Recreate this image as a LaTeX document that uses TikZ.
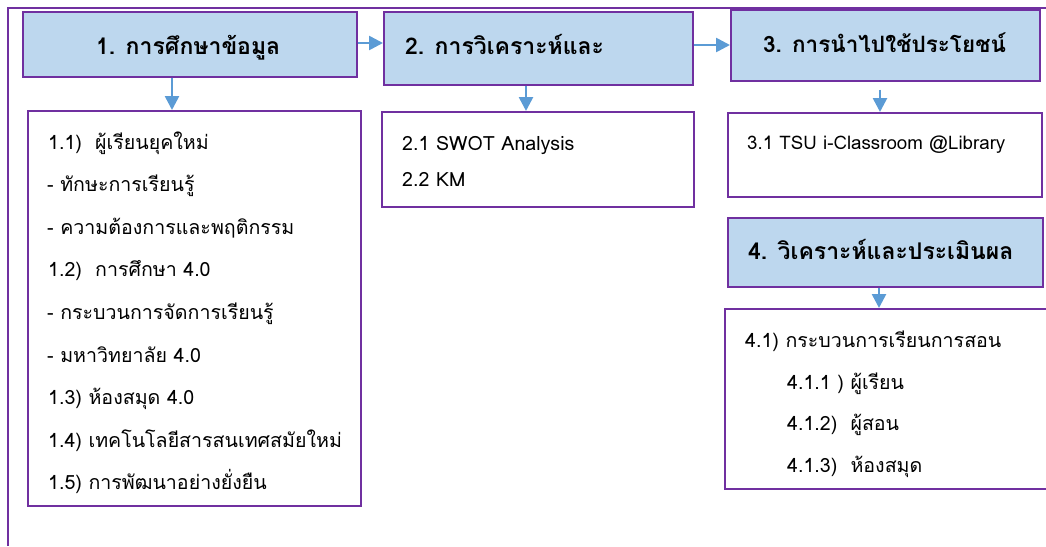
\documentclass[tikz,border=0pt]{standalone}
\usepackage{fontspec}
\setmainfont[Script=Thai]{Loma}
\usetikzlibrary{arrows.meta,calc}
\definecolor{pur}{HTML}{7030A0}
\definecolor{hdr}{HTML}{BDD7EE}
\definecolor{arr}{HTML}{5B9BD5}
\tikzset{
  box/.style={draw=pur,line width=1.6pt,rectangle,inner sep=0pt,anchor=north west},
  hbox/.style={box,fill=hdr},
  htext/.style={anchor=base west,inner sep=0pt,font=\fontsize{23}{23}\selectfont\bfseries},
  btext/.style={anchor=base west,inner sep=0pt,font=\fontsize{19.6}{19.6}\selectfont},
  conn/.style={draw=arr,line width=2.6pt,-{Triangle[length=14pt,width=14pt]}},
  frame/.style={draw=pur,line width=2.6pt}
}
\begin{document}
\begin{tikzpicture}[x=1pt,y=-1pt]
\useasboundingbox (0,0) rectangle (1046,546);
\draw[frame] (8,546) -- (8,8) -- (1046,8);
% header boxes
\node[hbox,minimum width=334pt,minimum height=65pt] (h1) at (22,11) {};
\node[hbox,minimum width=309pt,minimum height=73pt] (h2) at (383,11) {};
\node[hbox,minimum width=309pt,minimum height=71pt] (h3) at (730,9) {};
\node[hbox,minimum width=315pt,minimum height=69pt] (h4) at (727,217) {};
% detail boxes
\node[box,minimum width=333pt,minimum height=395pt] (d1) at (27,110) {};
\node[box,minimum width=312pt,minimum height=95pt] (d2) at (381,111) {};
\node[box,minimum width=314pt,minimum height=84pt] (d3) at (727,112) {};
\node[box,minimum width=322pt,minimum height=180pt] (d4) at (724,308) {};
% header texts
\node[htext] (t1) at (96,54) {1. การศึกษาข้อมูล};
\node[htext] (t2) at (405,54) {2. การวิเคราะห์และ};
\node[htext,font=\fontsize{22.5}{22.5}\selectfont\bfseries] (t3) at (763,52) {3. การนำไปใช้ประโยชน์};
\node[htext] (t4) at (748,259) {4. วิเคราะห์และประเมินผล};
% box 1 texts
\node[btext] (a1) at (48,149) {1.1)\ \ ผู้เรียนยุคใหม่};
\node[btext] (a2) at (47,191.6) {- ทักษะการเรียนรู้};
\node[btext] (a3) at (47,234.2) {- ความต้องการและพฤติกรรม};
\node[btext] (a4) at (48,276.8) {1.2)\ \ การศึกษา 4.0};
\node[btext] (a5) at (47,319.4) {- กระบวนการจัดการเรียนรู้};
\node[btext] (a6) at (47,362) {- มหาวิทยาลัย 4.0};
\node[btext] (a7) at (48,404.6) {1.3) ห้องสมุด 4.0};
\node[btext] (a8) at (48,447.2) {1.4) เทคโนโลยีสารสนเทศสมัยใหม่};
\node[btext] (a9) at (48,489.8) {1.5) การพัฒนาอย่างยั่งยืน};
% box 2 texts
\node[btext] (b1) at (402,150) {2.1 SWOT Analysis};
\node[btext] (b2) at (402,186) {2.2 KM};
% box 3 text
\node[btext,font=\fontsize{18.7}{18.7}\selectfont] (c1) at (747,149) {3.1 TSU i-Classroom @Library};
% box 4 texts
\node[btext] (e1) at (745,347) {4.1) กระบวนการเรียนการสอน};
\node[btext] (e2) at (787,389) {4.1.1 ) ผู้เรียน};
\node[btext] (e3) at (787,430.5) {4.1.2)\ \ ผู้สอน};
\node[btext] (e4) at (787,472) {4.1.3)\ \ ห้องสมุด};
% connectors
\coordinate (x1) at (172,0);
\coordinate (x2) at (526,0);
\coordinate (x3) at (880,0);
\coordinate (x4) at (879,0);
\coordinate (y12) at (0,43);
\coordinate (y23) at (0,45);
\draw[conn] (h1.south -| x1) -- (d1.north -| x1);
\draw[conn] (h2.south -| x2) -- (d2.north -| x2);
\draw[conn] ($(h3.south -| x3)+(0,8)$) -- (d3.north -| x3);
\draw[conn] (h4.south -| x4) -- (d4.north -| x4);
\draw[conn] (h1.east |- y12) -- (h2.west |- y12);
\draw[conn] (h2.east |- y23) -- (h3.west |- y23);
\end{tikzpicture}
\end{document}
